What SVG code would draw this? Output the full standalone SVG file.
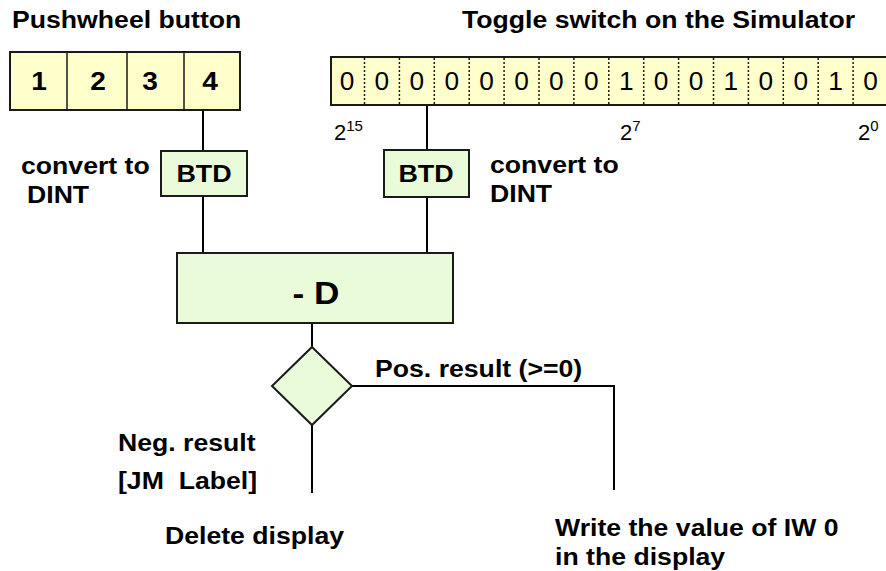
<svg xmlns="http://www.w3.org/2000/svg" width="886" height="571" viewBox="0 0 886 571">
  <style>
    .t { font-family: "Liberation Sans", Arial, sans-serif; font-weight: bold; font-size: 24px; fill: #000; }
    .big { font-size: 32px; }
    .dig { font-size: 26px; }
    .bit { font-family: "Liberation Sans", Arial, sans-serif; font-size: 25px; fill: #000; }
    .exp { font-family: "Liberation Sans", Arial, sans-serif; font-size: 22px; fill: #000; }
    .pw { fill: #FFFFCC; stroke: #1a1a1a; stroke-width: 2; }
    .op { fill: #E9FBD9; stroke: #1a1a1a; stroke-width: 2; }
    .sep { stroke: #1a1a1a; stroke-width: 1.5; }
    .dot { stroke: #1a1a1a; stroke-width: 1.5; stroke-dasharray: 2 2; }
    .wire { fill: none; stroke: #000; stroke-width: 2; }
  </style>

  <!-- titles -->
  <text class="t" transform="translate(12 28) scale(1.11 1)">Pushwheel button</text>
  <text class="t" transform="translate(462 28) scale(1.11 1)">Toggle switch on the Simulator</text>

  <!-- connectors -->
  <g id="connectors">
    <path class="wire" d="M203 110 V151 M203 196 V253"/>
    <path class="wire" d="M427 105 V150 M427 197 V253"/>
    <path class="wire" d="M312 323 V347"/>
    <path class="wire" d="M312 425 V493"/>
    <path class="wire" d="M352 386 H614 V490"/>
  </g>

  <!-- pushwheel button, 4 decades -->
  <g id="pushwheel">
    <rect class="pw" x="10" y="52" width="230" height="58"/>
    <path class="sep" d="M67 52 V110 M127 52 V110 M184 52 V110"/>
    <g class="t dig" text-anchor="middle">
      <text transform="translate(39 90) scale(1.08 1)">1</text>
      <text transform="translate(98 90) scale(1.08 1)">2</text>
      <text transform="translate(150 90) scale(1.08 1)">3</text>
      <text transform="translate(210 90) scale(1.08 1)">4</text>
    </g>
  </g>

  <!-- toggle switch word, bits 15..0 -->
  <g id="toggle">
    <rect class="pw" x="331" y="57" width="570" height="48"/>
    <path class="dot" d="M364.5 58 V104 M399.4 58 V104 M434.3 58 V104 M469.2 58 V104 M504.1 58 V104 M539 58 V104 M573.9 58 V104 M608.8 58 V104 M643.7 58 V104 M678.6 58 V104 M713.5 58 V104 M748.4 58 V104 M783.3 58 V104 M818.2 58 V104 M853.1 58 V104"/>
    <g class="bit" text-anchor="middle">
      <text transform="translate(347 90) scale(1.05 1)">0</text>
      <text transform="translate(381.9 90) scale(1.05 1)">0</text>
      <text transform="translate(416.8 90) scale(1.05 1)">0</text>
      <text transform="translate(451.7 90) scale(1.05 1)">0</text>
      <text transform="translate(486.6 90) scale(1.05 1)">0</text>
      <text transform="translate(521.5 90) scale(1.05 1)">0</text>
      <text transform="translate(556.4 90) scale(1.05 1)">0</text>
      <text transform="translate(591.3 90) scale(1.05 1)">0</text>
      <text transform="translate(626.2 90) scale(1.05 1)">1</text>
      <text transform="translate(661.1 90) scale(1.05 1)">0</text>
      <text transform="translate(696 90) scale(1.05 1)">0</text>
      <text transform="translate(730.9 90) scale(1.05 1)">1</text>
      <text transform="translate(765.8 90) scale(1.05 1)">0</text>
      <text transform="translate(800.7 90) scale(1.05 1)">0</text>
      <text transform="translate(835.6 90) scale(1.05 1)">1</text>
      <text transform="translate(870.5 90) scale(1.05 1)">0</text>
    </g>
    <g class="exp">
      <text transform="translate(334 140)">2<tspan font-size="15" dy="-9">15</tspan></text>
      <text transform="translate(620 140)">2<tspan font-size="15" dy="-9">7</tspan></text>
      <text transform="translate(858 140)">2<tspan font-size="15" dy="-9">0</tspan></text>
    </g>
  </g>

  <!-- BTD conversions -->
  <g id="btd-left">
    <rect class="op" x="161" y="151" width="86" height="45"/>
    <text class="t" text-anchor="middle" transform="translate(204 182) scale(1.12 1)">BTD</text>
  </g>
  <g id="btd-left-label">
    <text class="t" transform="translate(21 174) scale(1.11 1)">convert to</text>
    <text class="t" transform="translate(27 203) scale(1.11 1)">DINT</text>
  </g>
  <g id="btd-right">
    <rect class="op" x="384" y="150" width="85" height="47"/>
    <text class="t" text-anchor="middle" transform="translate(426 182) scale(1.12 1)">BTD</text>
  </g>
  <g id="btd-right-label">
    <text class="t" transform="translate(490 173) scale(1.11 1)">convert to</text>
    <text class="t" transform="translate(490 202) scale(1.11 1)">DINT</text>
  </g>

  <!-- double-integer subtraction -->
  <g id="sub">
    <rect class="op" x="177" y="253" width="276" height="70"/>
    <text class="t big" text-anchor="middle" transform="translate(316 304) scale(1.1 1)">- D</text>
  </g>

  <!-- sign decision -->
  <g id="decision">
    <path class="op" d="M312 347 L352 386 L312 425 L272 386 Z"/>
  </g>
  <g id="pos-label">
    <text class="t" transform="translate(375 377) scale(1.11 1)">Pos. result (&gt;=0)</text>
  </g>
  <g id="neg-label">
    <text class="t" transform="translate(118 451) scale(1.11 1)">Neg. result</text>
    <text class="t" xml:space="preserve" transform="translate(118 489) scale(1.11 1)">[JM  Label]</text>
  </g>

  <!-- outcomes -->
  <g id="delete">
    <text class="t" transform="translate(165 544) scale(1.11 1)">Delete display</text>
  </g>
  <g id="write">
    <text class="t" transform="translate(555 536) scale(1.11 1)">Write the value of IW 0</text>
    <text class="t" transform="translate(555 565) scale(1.11 1)">in the display</text>
  </g>
</svg>
